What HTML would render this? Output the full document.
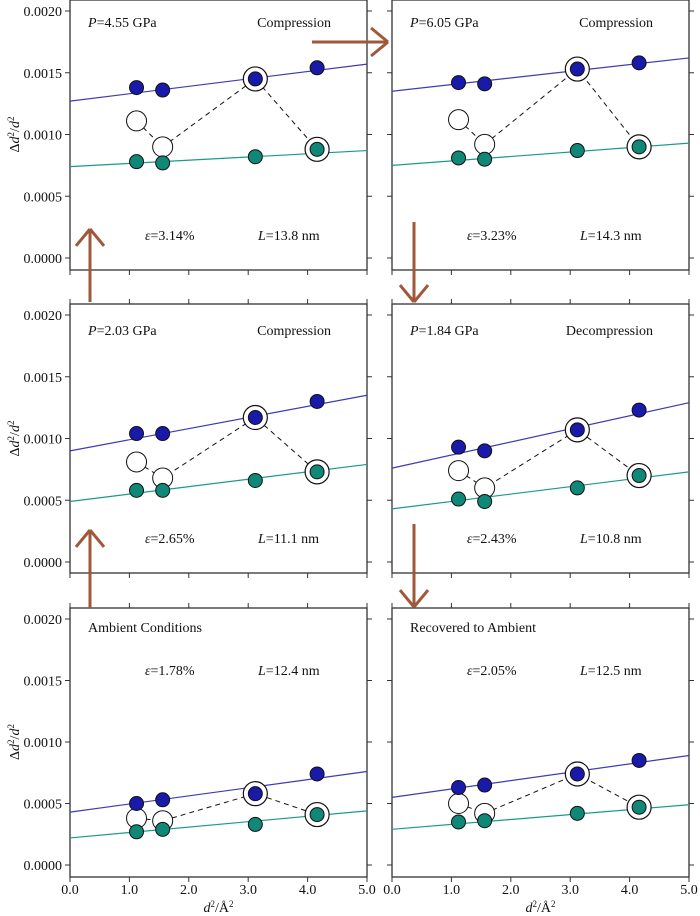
<!DOCTYPE html>
<html><head><meta charset="utf-8"><style>
body{margin:0;background:#fff;}
svg{display:block;font-family:"Liberation Serif",serif;}
</style></head><body>
<svg id="c" width="700" height="916"></svg>
<script>
const xs=[1.12,1.56,3.12,4.16];
const panelTitles=[["P","=4.55 GPa","Compression"],["P","=6.05 GPa","Compression"],["P","=2.03 GPa","Compression"],["P","=1.84 GPa","Decompression"],["","Ambient Conditions",""],["","Recovered  to Ambient",""]];
const strainLabels=["3.14%","3.23%","2.65%","2.43%","1.78%","2.05%"];
const sizeLabels=["13.8 nm","14.3 nm","11.1 nm","10.8 nm","12.4 nm","12.5 nm"];
const blueVals=[[0.00138,0.00136,0.00145,0.00154],[0.00142,0.00141,0.00153,0.00158],[0.00104,0.00104,0.00117,0.00130],[0.00093,0.00090,0.00107,0.00123],[0.00050,0.00053,0.00058,0.00074],[0.00063,0.00065,0.00074,0.00085]];
const tealVals=[[0.00078,0.00077,0.00082,0.00088],[0.00081,0.00080,0.00087,0.00090],[0.00058,0.00058,0.00066,0.00073],[0.00051,0.00049,0.00060,0.00070],[0.00027,0.00029,0.00033,0.00041],[0.00035,0.00036,0.00042,0.00047]];
const openVals=[[0.00111,0.00090],[0.00112,0.00092],[0.00081,0.00068],[0.00074,0.00060],[0.00038,0.00036],[0.00050,0.00042]];
const blueFit=[[0.00127,0.00157],[0.00135,0.00162],[0.00090,0.00135],[0.00076,0.00129],[0.00043,0.00076],[0.00055,0.00089]];
const tealFit=[[0.00074,0.00087],[0.00075,0.00093],[0.00049,0.00079],[0.00043,0.00073],[0.00022,0.00044],[0.00029,0.00049]];
const yTicks=[0,0.0005,0.001,0.0015,0.002];
const yTickLabels=["0.0000","0.0005","0.0010","0.0015","0.0020"];
const xTicks=[0,1,2,3,4,5];
const xTickLabels=["0.0","1.0","2.0","3.0","4.0","5.0"];

const NS="http://www.w3.org/2000/svg";
const svg=document.getElementById('c');
function mk(tag,attrs,parent,txt){const e=document.createElementNS(NS,tag);for(const k in attrs)e.setAttribute(k,attrs[k]);if(txt!==undefined)e.textContent=txt;(parent||svg).appendChild(e);return e;}
const colX=[70,392], W=297;
const rowY=[{top:0,bot:270,y0:258,y2:11},{top:304,bot:573,y0:562,y2:315},{top:608,bot:877,y0:865,y2:619}];
for(let p=0;p<6;p++){
  const c=p%2,r=Math.floor(p/2);
  const L=colX[c],R=L+W,row=rowY[r];
  const X=v=>L+v/5*W;
  const Y=v=>row.y0+(row.y2-row.y0)*v/0.002;
  const g=mk('g',{});
  
  
  const fr=mk('rect',{x:L,y:row.top,width:W,height:row.bot-row.top,fill:'none',stroke:'#333','stroke-width':1.3},g);
  
  yTicks.forEach((t,i)=>{
    mk('line',{x1:L-5,x2:L,y1:Y(t),y2:Y(t),stroke:'#333'},g);
    mk('line',{x1:R,x2:R+5,y1:Y(t),y2:Y(t),stroke:'#333'},g);
    if(c===0){const tl=mk('text',{x:L-8,y:Y(t)+5,'text-anchor':'end','font-size':14,fill:'#111'},g,yTickLabels[i]);
      }
  });
  xTicks.forEach((t,i)=>{
    mk('line',{x1:X(t),x2:X(t),y1:row.bot,y2:row.bot+5,stroke:'#333'},g);
    if(r>0) mk('line',{x1:X(t),x2:X(t),y1:row.top-5,y2:row.top,stroke:'#333'},g);
    if(r===2){const tl=mk('text',{x:X(t),y:row.bot+17,'text-anchor':'middle','font-size':14,fill:'#111'},g,xTickLabels[i]);
      }
  });
  if(c===0){const yt=mk('text',{x:0,y:0,transform:`translate(19,${(row.y0+row.y2)/2}) rotate(-90)`,'text-anchor':'middle','font-size':14,fill:'#111'},g);
    yt.innerHTML='Δ<tspan font-style="italic">d</tspan><tspan font-size="9" dy="-5">2</tspan><tspan dy="5">/</tspan><tspan font-style="italic">d</tspan><tspan font-size="9" dy="-5">2</tspan>';
    }
  if(r===2){const xt=mk('text',{x:L+W/2,y:row.bot+35,'text-anchor':'middle','font-size':14,fill:'#111'},g);
    xt.innerHTML='<tspan font-style="italic">d</tspan><tspan font-size="9" dy="-5">2</tspan><tspan dy="5">/Å</tspan><tspan font-size="9" dy="-5">2</tspan>';
    }
  // fits
  const bf=mk('line',{x1:X(0),x2:X(5),y1:Y(blueFit[p][0]),y2:Y(blueFit[p][1]),stroke:'#3c3cb4','stroke-width':1.2},g);
  
  const tf=mk('line',{x1:X(0),x2:X(5),y1:Y(tealFit[p][0]),y2:Y(tealFit[p][1]),stroke:'#1a9a8a','stroke-width':1.2},g);
  
  // dashed path
  const pts=[[X(xs[0]),Y(openVals[p][0])],[X(xs[1]),Y(openVals[p][1])],[X(xs[2]),Y(blueVals[p][2])],[X(xs[3]),Y(tealVals[p][3])]];
  const dl=mk('polyline',{points:pts.map(q=>q.join(',')).join(' '),fill:'none',stroke:'#111','stroke-dasharray':'5,4','stroke-width':1},g);
  
  // rings
  [[xs[2],blueVals[p][2]],[xs[3],tealVals[p][3]]].forEach(q=>{
    const rg=mk('circle',{cx:X(q[0]),cy:Y(q[1]),r:12,fill:'#fff',stroke:'#111','stroke-width':1.2},g);
    
  });
  openVals[p].forEach((v,i)=>{
    const oc=mk('circle',{cx:X(xs[i]),cy:Y(v),r:10,fill:'#fff',stroke:'#111','stroke-width':1},g);
    
  });
  blueVals[p].forEach((v,i)=>{
    const d=mk('circle',{cx:X(xs[i]),cy:Y(v),r:7,fill:'#1a1aaa',stroke:'#111','stroke-width':1},g);
    
  });
  tealVals[p].forEach((v,i)=>{
    const d=mk('circle',{cx:X(xs[i]),cy:Y(v),r:7,fill:'#108878',stroke:'#111','stroke-width':1},g);
    
  });
  // labels
  const t=panelTitles[p];
  const ty=r===2?row.top+24:row.top+(r===0?27:31);
  const lt=mk('text',{x:L+18,y:ty,'font-size':14,fill:'#111'},g);
  lt.innerHTML=(t[0]?'<tspan font-style="italic">'+t[0]+'</tspan>':'')+t[1];
  
  if(t[2]){const ct=mk('text',{x:L+261,y:ty,'text-anchor':'end','font-size':14,fill:'#111'},g,t[2]);
    }
  const ly=r===2?row.top+67:row.bot-30;
  const et=mk('text',{x:L+75,y:ly,'font-size':14,fill:'#111'},g);
  et.innerHTML='<tspan font-style="italic">ε</tspan>='+strainLabels[p];
  
  const st=mk('text',{x:L+188,y:ly,'font-size':14,fill:'#111'},g);
  st.innerHTML='<tspan font-style="italic">L</tspan>='+sizeLabels[p];
  
}
// arrows
const AC='#a0583a';
function arrow(x1,y1,x2,y2,name){
  const g=mk('g',{stroke:AC,'stroke-width':3,fill:'none'});
  
  mk('line',{x1,y1,x2,y2},g);
  const a=Math.atan2(y2-y1,x2-x1),h=22;
  [a+Math.PI*0.78,a-Math.PI*0.78].forEach(b=>mk('line',{x1:x2,y1:y2,x2:x2+h*Math.cos(b),y2:y2+h*Math.sin(b)},g));
}
arrow(312,42,388,42,'arrow-right');
arrow(90,302,90,229,'arrow-up-1');
arrow(90,608,90,530,'arrow-up-2');
arrow(414,222,414,302,'arrow-down-1');
arrow(414,524,414,607,'arrow-down-2');
</script>
</body></html>
